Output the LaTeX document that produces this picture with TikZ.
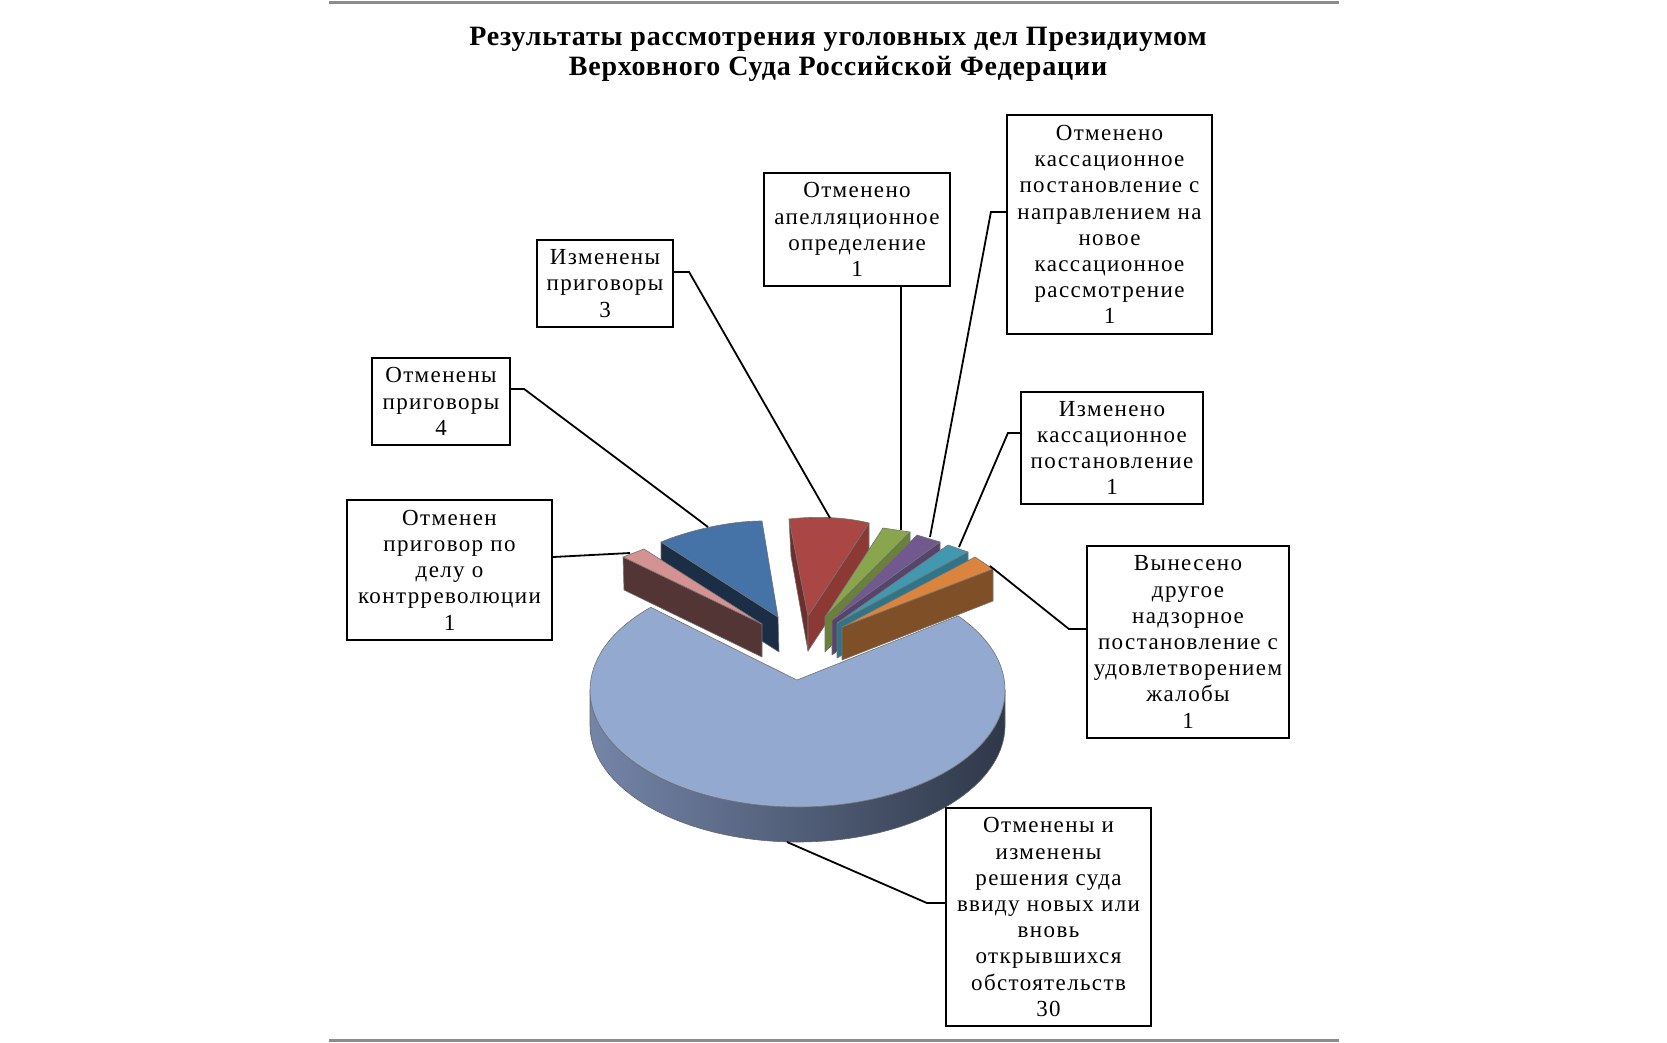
\documentclass[tikz,border=0pt]{standalone}
\usepackage{fontspec}
\setmainfont{Liberation Serif}
\usetikzlibrary{calc}
\definecolor{bigtop}{HTML}{93A9CF}
\definecolor{bigsideL}{HTML}{7485A8}
\definecolor{bigsideM}{HTML}{4E5D7D}
\definecolor{bigsideR}{HTML}{2F3849}
\definecolor{pinktop}{HTML}{D49292}
\definecolor{pinkface}{HTML}{533535}
\definecolor{bluetop}{HTML}{4572A7}
\definecolor{blueface}{HTML}{1C2D46}
\definecolor{redtop}{HTML}{AA4643}
\definecolor{redface}{HTML}{8C3936}
\definecolor{redleft}{HTML}{702D2B}
\definecolor{greentop}{HTML}{89A54E}
\definecolor{greenface}{HTML}{6A813A}
\definecolor{purpletop}{HTML}{71588F}
\definecolor{purpleface}{HTML}{56436E}
\definecolor{tealtop}{HTML}{4198AF}
\definecolor{tealface}{HTML}{2F7587}
\definecolor{orangetop}{HTML}{DB843D}
\definecolor{orangeface}{HTML}{7F5027}
\definecolor{rulegray}{HTML}{8C8C8C}
\tikzset{
  lbl/.style={draw=black, line width=2.2pt, fill=white, inner sep=0pt, align=center,
    font=\fontsize{23}{26.2}\selectfont\addfontfeatures{LetterSpace=6}},
  leader/.style={draw=black, line width=1.8pt},
  slice/.style={draw=black!55, line width=0.6pt, line join=round},
}
\begin{document}
\begin{tikzpicture}[x=1pt,y=-1pt]
\useasboundingbox (0,0) rectangle (1667,1042);
% rules
\draw[rulegray, line width=3pt] (329,2) -- (1339,2);
\draw[rulegray, line width=3pt] (329,1040) -- (1339,1040);
% title
\node[font=\fontsize{28}{30}\selectfont\bfseries\addfontfeatures{LetterSpace=3}, align=center] (title) at (838,54)
  {Результаты рассмотрения уголовных дел Президиумом\\Верховного Суда Российской Федерации};

% ---- small slices (back to front) ----
% red
\fill[redleft, slice] (789,519) -- (808,616) -- (808,651) -- (791,556) -- cycle;
\fill[redface, slice] (869,523) -- (808,616) -- (808,651) -- (869,558) -- cycle;
\fill[redtop, slice] (789,519) .. controls (815,516) and (845,517) .. (869,523) -- (808,616) -- cycle;
% green
\fill[greenface, slice] (910,532) -- (825,617) -- (825,652) -- (910,567) -- cycle;
\fill[greentop, slice] (883,528) -- (910,532) -- (825,617) -- cycle;
% purple
\fill[purpleface, slice] (940,542) -- (832,620) -- (832,655) -- (940,577) -- cycle;
\fill[purpletop, slice] (917,535) -- (940,542) -- (832,620) -- cycle;
% teal
\fill[tealface, slice] (968,552) -- (837,623) -- (837,658) -- (968,587) -- cycle;
\fill[tealtop, slice] (948,545) -- (968,552) -- (837,623) -- cycle;
% orange
\fill[orangeface, slice] (993,569) -- (842,627) -- (842,660) -- (993,601) -- cycle;
\fill[orangetop, slice] (975,557) -- (993,569) -- (842,627) -- cycle;
% blue
\fill[blueface, slice] (661,542) -- (778,617) -- (779,652) -- (661,577) -- cycle;
\fill[bluetop, slice] (661,542) .. controls (690,530) and (730,521) .. (762,521) -- (778,617) -- cycle;
% pink
\fill[pinkface, slice] (623,557) -- (762,624) -- (762,657) -- (624,590) -- cycle;
\fill[pinktop, slice] (623,557) -- (644,549) -- (762,624) -- cycle;

% ---- big slice ----
\coordinate (bc) at (797.5,690);
\shade[left color=bigsideL, middle color=bigsideM, right color=bigsideR, draw=black!60, line width=0.6pt]
  ($(bc)+(0:207.5 and 117)$) arc[start angle=0, end angle=180, x radius=207.5, y radius=117]
  -- ++(0,35) arc[start angle=180, end angle=0, x radius=207.5, y radius=117] -- cycle;
\fill[bigtop, draw=black!55, line width=0.6pt, line join=round]
  (797,680) -- ($(bc)+(-39.3:207.5 and 117)$)
  arc[start angle=-39.3, end angle=225, x radius=207.5, y radius=117] -- cycle;

% ---- label boxes ----
\node[lbl, minimum width=136, minimum height=87] (izm3) at (605,283.5) {Изменены\\приговоры\\3};
\node[lbl, minimum width=186, minimum height=113] (appeal) at (857,229.5) {Отменено\\апелляционное\\определение\\1};
\node[lbl, minimum width=205, minimum height=219] (kass) at (1109.5,224.5) {Отменено\\кассационное\\постановление с\\направлением на\\новое\\кассационное\\рассмотрение\\1};
\node[lbl, minimum width=182, minimum height=112] (izmkass) at (1112,448) {Изменено\\кассационное\\постановление\\1};
\node[lbl, minimum width=138, minimum height=87] (otm4) at (441,401.5) {Отменены\\приговоры\\4};
\node[lbl, minimum width=205, minimum height=140] (kontr) at (449.5,570) {Отменен\\приговор по\\делу о\\контрреволюции\\1};
\node[lbl, minimum width=202, minimum height=192] (vynes) at (1188,642) {Вынесено\\другое\\надзорное\\постановление с\\удовлетворением\\жалобы\\1};
\node[lbl, minimum width=205, minimum height=218] (big) at (1048.5,917) {Отменены и\\изменены\\решения суда\\ввиду новых или\\вновь\\открывшихся\\обстоятельств\\30};

% ---- leader end points ----
\coordinate (pRed) at (830,518);
\coordinate (pGreen) at (901,530);
\coordinate (pPurple) at (930,537);
\coordinate (pTeal) at (959,547);
\coordinate (pOrange) at (990,566);
\coordinate (pBlue) at (708,527);
\coordinate (pPink) at (630,553);
\coordinate (pBig) at (787,842);

\draw[leader] ([yshift=11.5pt]izm3.east) -- ++(15,0) -- (pRed);
\draw[leader] ([xshift=44pt]appeal.south) -- (pGreen);
\draw[leader] ([yshift=12.5pt]kass.west) -- ++(-15,0) -- (pPurple);
\draw[leader] ([yshift=15pt]izmkass.west) -- ++(-12,0) -- (pTeal);
\draw[leader] ([yshift=13pt]vynes.west) -- ++(-17,0) -- (pOrange);
\draw[leader] ([yshift=12.5pt]otm4.east) -- ++(13,0) -- (pBlue);
\draw[leader] ([yshift=13pt]kontr.east) -- (pPink);
\draw[leader] ([yshift=14pt]big.west) -- ++(-18,0) -- (pBig);
\end{tikzpicture}
\end{document}
